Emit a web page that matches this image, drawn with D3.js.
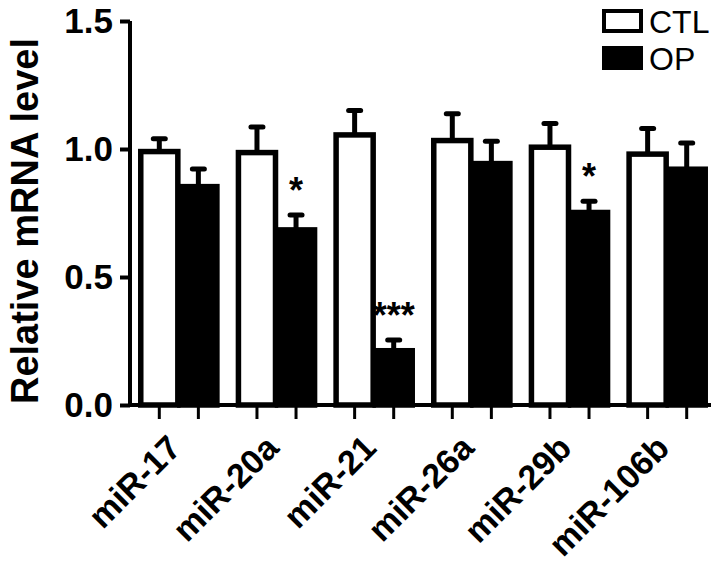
<!DOCTYPE html>
<html>
<head>
<meta charset="utf-8">
<script src="https://cdn.jsdelivr.net/npm/d3@7"></script>
<style>
  body { margin: 0; background: #fff; }
  text { font-family: "Liberation Sans", Arial, sans-serif; }
</style>
</head>
<body>
<svg id="chart" width="724" height="563"></svg>
<script>
// relative mRNA levels, CTL vs OP
var genes = ["miR-17", "miR-20a", "miR-21", "miR-26a", "miR-29b", "miR-106b"];
var groups = ["CTL", "OP"];
var ctlMean = [0.99, 0.986, 1.055, 1.033, 1.007, 0.98];
var ctlSem  = [0.05, 0.10, 0.095, 0.105, 0.093, 0.10];
var opMean  = [0.853, 0.684, 0.212, 0.943, 0.752, 0.921];
var opSem   = [0.069, 0.058, 0.042, 0.087, 0.044, 0.102];
var opStars = ["", "*", "***", "", "*", ""];
var yTicks = [0, 0.5, 1.0, 1.5];

var data = [];
genes.forEach(function(g, i) {
    data.push({gene: g, group: "CTL", v: ctlMean[i], e: ctlSem[i], star: ""});
    data.push({gene: g, group: "OP", v: opMean[i], e: opSem[i], star: opStars[i]});
});

var svg = d3.select("#chart");

var x0 = d3.scaleBand().domain(genes).range([130, 716]).padding(0);
var x1 = d3.scaleBand().domain(groups).range([0, x0.bandwidth()]).paddingInner(0).paddingOuter(0.25);
var y = d3.scaleLinear().domain([0, 1.5]).range([405, 21]);
var fill = d3.scaleOrdinal().domain(groups).range(["#fff", "#000"]);

function cx(d) { return x0(d.gene) + x1(d.group) + x1.bandwidth() / 2; }

// bars
var bw = x1.bandwidth() - 2;
var g = svg.append("g");

// error bars first (under the bar outline)
g.selectAll("line.err")
    .data(data)
    .enter().append("line")
    .attr("class", "err")
    .attr("x1", cx).attr("x2", cx)
    .attr("y1", function(d) { return y(d.v); })
    .attr("y2", function(d) { return y(d.v + d.e); })
    .attr("stroke", "#000").attr("stroke-width", 5);
g.selectAll("line.cap")
    .data(data)
    .enter().append("line")
    .attr("class", "cap")
    .attr("x1", function(d) { return cx(d) - 6; })
    .attr("x2", function(d) { return cx(d) + 6; })
    .attr("y1", function(d) { return y(d.v + d.e); })
    .attr("y2", function(d) { return y(d.v + d.e); })
    .attr("stroke", "#000").attr("stroke-width", 5).attr("stroke-linecap", "round");

g.selectAll("rect.bar")
    .data(data)
    .enter().append("rect")
    .attr("class", "bar")
    .attr("x", function(d) { return cx(d) - bw / 2; })
    .attr("y", function(d) { return y(d.v); })
    .attr("width", bw)
    .attr("height", function(d) { return y(0) - y(d.v); })
    .attr("fill", function(d) { return fill(d.group); })
    .attr("stroke", "#000").attr("stroke-width", 5.5);

// significance stars
g.selectAll("text.star")
    .data(data.filter(function(d) { return d.star; }))
    .enter().append("text")
    .attr("x", cx)
    .attr("y", function(d) { return y(d.v + d.e) - 32 + 20; })
    .attr("text-anchor", "middle")
    .style("font-size", "36px").style("font-weight", "bold")
    .text(function(d) { return d.star; });

// y axis
var yAxis = svg.append("g").attr("transform", "translate(130,0)")
    .call(d3.axisLeft(y).tickValues(yTicks).tickFormat(d3.format(".1f")).tickSize(10).tickPadding(7));
yAxis.select(".domain").attr("stroke-width", 4).attr("d", "M0," + y(1.5) + "V" + (y(0) + 2));
yAxis.selectAll(".tick line").attr("stroke-width", 4);
yAxis.selectAll(".tick text").style("font-size", "35px").style("font-weight", "bold").attr("fill", "#000");

// x axis: one tick per bar
var xTickPos = data.map(cx);
var xAxis = svg.append("g");
xAxis.append("line")
    .attr("x1", 128).attr("x2", 711)
    .attr("y1", y(0)).attr("y2", y(0))
    .attr("stroke", "#000").attr("stroke-width", 4);
xAxis.selectAll("line.xt")
    .data(xTickPos)
    .enter().append("line")
    .attr("class", "xt")
    .attr("x1", function(d) { return d; }).attr("x2", function(d) { return d; })
    .attr("y1", y(0)).attr("y2", y(0) + 14)
    .attr("stroke", "#000").attr("stroke-width", 3);

xAxis.selectAll("text.xl")
    .data(genes)
    .enter().append("text")
    .attr("class", "xl")
    .attr("transform", function(d) {
        return "translate(" + (x0(d) + x0.bandwidth() / 2 + 4) + ",450) rotate(-45)";
    })
    .attr("text-anchor", "end")
    .style("font-size", "34px").style("font-weight", "bold")
    .text(function(d) { return d; });

// y title
svg.append("text")
    .attr("transform", "translate(38,221) rotate(-90)")
    .attr("text-anchor", "middle")
    .style("font-size", "38px").style("font-weight", "bold")
    .text("Relative mRNA level");

// legend
var leg = svg.append("g");
groups.forEach(function(k, i) {
    leg.append("rect")
        .attr("x", 604).attr("y", 11 + i * 37)
        .attr("width", 37).attr("height", 20)
        .attr("fill", fill(k)).attr("stroke", "#000").attr("stroke-width", 4);
    leg.append("text")
        .attr("x", 649).attr("y", 33 + i * 37)
        .style("font-size", "32px")
        .text(k);
});
</script>
</body>
</html>
